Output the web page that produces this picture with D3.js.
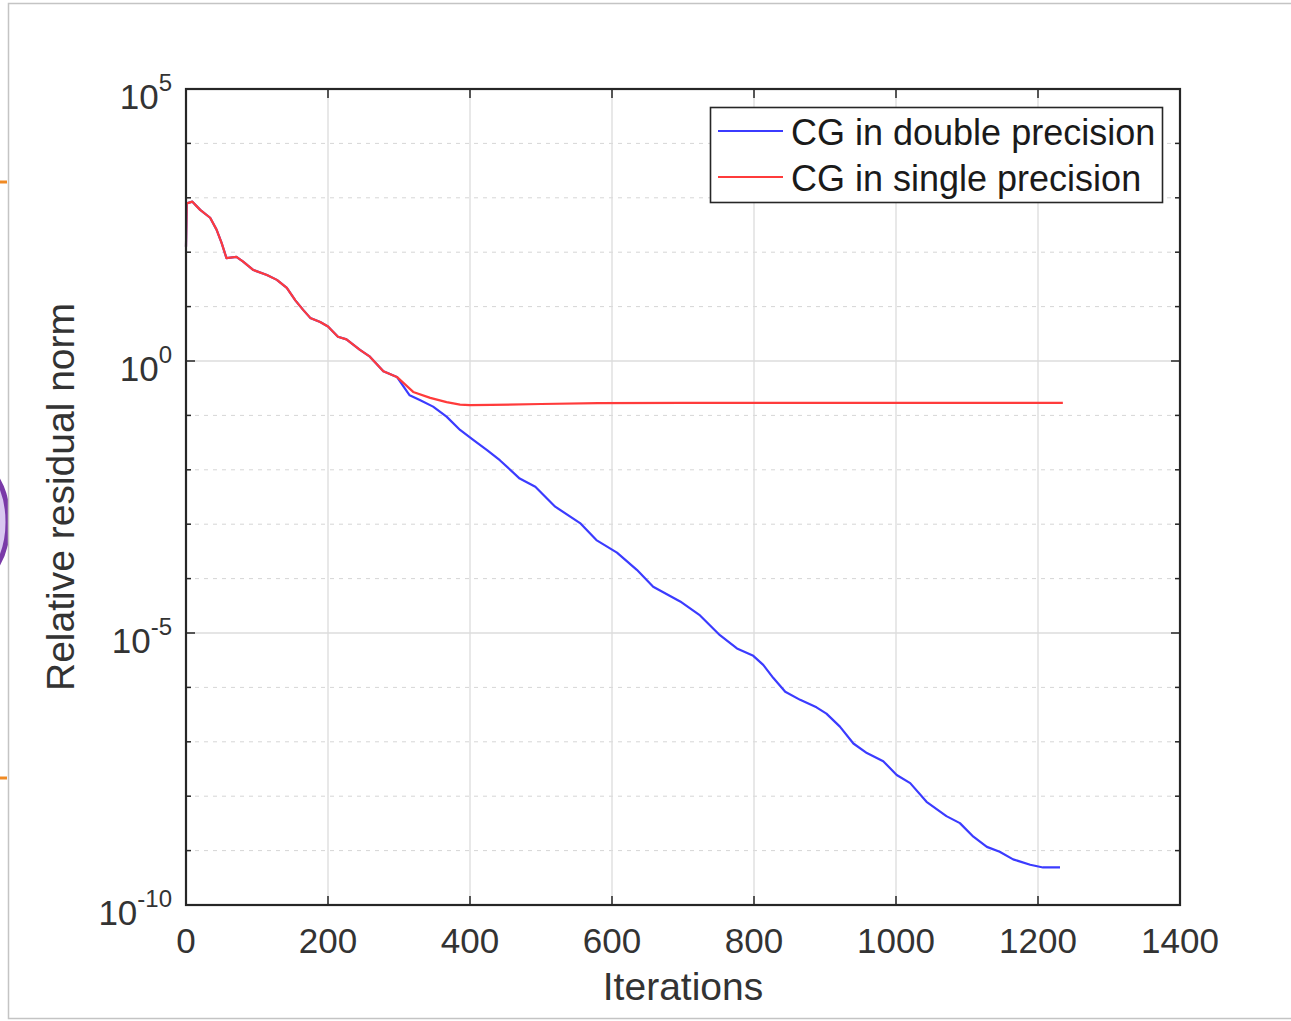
<!DOCTYPE html>
<html>
<head>
<meta charset="utf-8">
<script src="https://cdn.jsdelivr.net/npm/d3@7"></script>
<style>
    body { margin: 0; background: #ffffff; }
    svg { display: block; font-family: "Liberation Sans", Arial, Helvetica, sans-serif; }
</style>
</head>
<body>
<script>
const width = 1291, height = 1021;

// iterations + relative residual norm
const sharedIter = [0, 1, 9, 20, 34, 43, 50, 57, 71, 80, 95, 114, 128, 142, 154, 165, 175, 189, 200, 214, 226, 245, 259, 278, 297];
const sharedRes = [1.26e2, 7.9e2, 8.5e2, 6.0e2, 4.3e2, 2.6e2, 1.5e2, 7.8e1, 8.2e1, 6.8e1, 4.7e1, 3.8e1, 3.1e1, 2.2e1, 1.3e1, 8.7, 6.2, 5.2, 4.3, 2.8, 2.5, 1.6, 1.2, 0.65, 0.51];

const doubleIter = [315, 330, 348, 367, 386, 405, 424, 442, 470, 492, 520, 555, 578, 607, 635, 658, 696, 724, 752, 776, 799, 813, 827, 844, 865, 888, 902, 921, 940, 959, 982, 1001, 1020, 1043, 1071, 1090, 1109, 1128, 1146, 1165, 1189, 1207, 1231];
const doubleRes = [0.234, 0.19, 0.145, 0.095, 0.054, 0.035, 0.023, 0.015, 6.9e-3, 4.9e-3, 2.1e-3, 1.05e-3, 5.1e-4, 3.0e-4, 1.45e-4, 7.1e-5, 3.8e-5, 2.1e-5, 9.1e-6, 5.2e-6, 3.8e-6, 2.6e-6, 1.5e-6, 8.3e-7, 5.9e-7, 4.3e-7, 3.3e-7, 1.9e-7, 9.3e-8, 6.2e-8, 4.4e-8, 2.45e-8, 1.74e-8, 7.9e-9, 4.3e-9, 3.2e-9, 1.8e-9, 1.17e-9, 9.5e-10, 6.9e-10, 5.5e-10, 4.9e-10, 4.9e-10];

const singleIter = [320, 344, 367, 386, 400, 430, 500, 580, 700, 900, 1100, 1235];
const singleRes = [0.27, 0.21, 0.175, 0.158, 0.155, 0.156, 0.162, 0.168, 0.17, 0.17, 0.17, 0.17];

const xTicks = [0, 200, 400, 600, 800, 1000, 1200, 1400];
const yMajor = [5, 0, -5, -10];
const yMinor = [4, 3, 2, 1, -1, -2, -3, -4, -6, -7, -8, -9];
const legendLabels = ["CG in double precision", "CG in single precision"];
const seriesColors = ["#3b3bff", "#ff3b3b"];

const plot = {left: 186, right: 1180, top: 89, bottom: 905};

const x = d3.scaleLinear().domain([0, 1400]).range([plot.left, plot.right]);
const y = d3.scaleLog().domain([1e-10, 1e5]).range([plot.bottom, plot.top]);

const svg = d3.select("body").append("svg")
    .attr("width", width)
    .attr("height", height);

// bits of the slide behind the screenshot
svg.append("line").attr("x1", 0).attr("x2", 7).attr("y1", 182).attr("y2", 182)
    .attr("stroke", "#f08a24").attr("stroke-width", 3);
svg.append("line").attr("x1", 0).attr("x2", 7).attr("y1", 778).attr("y2", 778)
    .attr("stroke", "#f08a24").attr("stroke-width", 3);
svg.append("ellipse").attr("cx", -30).attr("cy", 522).attr("rx", 38).attr("ry", 62)
    .attr("fill", "#d9c8f0").attr("stroke", "#7a3aa8").attr("stroke-width", 5);

// screenshot frame
svg.append("rect")
    .attr("x", 8.5).attr("y", 3.5)
    .attr("width", width).attr("height", 1015)
    .attr("fill", "#ffffff")
    .attr("stroke", "#c4c4c4")
    .attr("stroke-width", 1.5);

// grid
const grid = svg.append("g").attr("class", "grid");
grid.selectAll("line.minor")
    .data(yMinor)
    .enter().append("line")
    .attr("class", "minor")
    .attr("x1", plot.left).attr("x2", plot.right)
    .attr("y1", d => y(Math.pow(10, d))).attr("y2", d => y(Math.pow(10, d)))
    .attr("stroke", "#d6d6d6")
    .attr("stroke-dasharray", "4,5")
    .attr("stroke-width", 1);
grid.selectAll("line.major")
    .data(yMajor.slice(1, 3))
    .enter().append("line")
    .attr("class", "major")
    .attr("x1", plot.left).attr("x2", plot.right)
    .attr("y1", d => y(Math.pow(10, d))).attr("y2", d => y(Math.pow(10, d)))
    .attr("stroke", "#dcdcdc")
    .attr("stroke-width", 1.3);
grid.selectAll("line.xg")
    .data(xTicks.slice(1, -1))
    .enter().append("line")
    .attr("class", "xg")
    .attr("x1", d => x(d)).attr("x2", d => x(d))
    .attr("y1", plot.top).attr("y2", plot.bottom)
    .attr("stroke", "#dcdcdc")
    .attr("stroke-width", 1.3);

// data lines
const line = d3.line()
    .x(d => x(d[0]))
    .y(d => y(d[1]));

const shared = d3.zip(sharedIter, sharedRes);
const doubleData = shared.concat(d3.zip(doubleIter, doubleRes));
const singleData = shared.concat(d3.zip(singleIter, singleRes));

svg.append("path")
    .datum(doubleData)
    .attr("d", line)
    .attr("fill", "none")
    .attr("stroke", seriesColors[0])
    .attr("stroke-width", 2.2)
    .attr("stroke-linejoin", "round");

svg.append("path")
    .datum(singleData)
    .attr("d", line)
    .attr("fill", "none")
    .attr("stroke", seriesColors[1])
    .attr("stroke-width", 2.2)
    .attr("stroke-linejoin", "round");

// axes box and ticks
const axisColor = "#262626";
const axes = svg.append("g");
const tickLen = 9, minorLen = 5;

xTicks.forEach(function (t) {
    axes.append("line").attr("x1", x(t)).attr("x2", x(t))
        .attr("y1", plot.bottom).attr("y2", plot.bottom - tickLen)
        .attr("stroke", axisColor).attr("stroke-width", 1.5);
    axes.append("line").attr("x1", x(t)).attr("x2", x(t))
        .attr("y1", plot.top).attr("y2", plot.top + tickLen)
        .attr("stroke", axisColor).attr("stroke-width", 1.5);
});
yMajor.concat(yMinor).forEach(function (e) {
    const len = yMajor.indexOf(e) >= 0 ? tickLen : minorLen;
    const yy = y(Math.pow(10, e));
    axes.append("line").attr("x1", plot.left).attr("x2", plot.left + len)
        .attr("y1", yy).attr("y2", yy)
        .attr("stroke", axisColor).attr("stroke-width", 1.5);
    axes.append("line").attr("x1", plot.right).attr("x2", plot.right - len)
        .attr("y1", yy).attr("y2", yy)
        .attr("stroke", axisColor).attr("stroke-width", 1.5);
});

axes.append("rect")
    .attr("x", plot.left).attr("y", plot.top)
    .attr("width", plot.right - plot.left)
    .attr("height", plot.bottom - plot.top)
    .attr("fill", "none")
    .attr("stroke", axisColor)
    .attr("stroke-width", 2.2);

// tick labels
const labelColor = "#333333";
svg.append("g").selectAll("text")
    .data(xTicks)
    .enter().append("text")
    .attr("x", d => x(d))
    .attr("y", plot.bottom + 48)
    .attr("text-anchor", "middle")
    .attr("font-size", 35)
    .attr("fill", labelColor)
    .text(d => d);

const yLabels = svg.append("g").selectAll("text")
    .data(yMajor)
    .enter().append("text")
    .attr("x", 172)
    .attr("y", d => y(Math.pow(10, d)) + 20)
    .attr("text-anchor", "end")
    .attr("fill", labelColor);
yLabels.append("tspan")
    .attr("font-size", 35)
    .text("10");
yLabels.append("tspan")
    .attr("font-size", 24)
    .attr("dy", -18)
    .text(d => d < 0 ? "-" + Math.abs(d) : d);

// axis titles
svg.append("text")
    .attr("x", (plot.left + plot.right) / 2)
    .attr("y", 1000)
    .attr("text-anchor", "middle")
    .attr("font-size", 39)
    .attr("fill", labelColor)
    .text("Iterations");

svg.append("text")
    .attr("transform", "translate(74," + ((plot.top + plot.bottom) / 2) + ") rotate(-90)")
    .attr("text-anchor", "middle")
    .attr("font-size", 39)
    .attr("fill", labelColor)
    .text("Relative residual norm");

// legend
const legend = svg.append("g");
legend.append("rect")
    .attr("x", 710.5).attr("y", 107.5)
    .attr("width", 452).attr("height", 95)
    .attr("fill", "#ffffff")
    .attr("stroke", axisColor)
    .attr("stroke-width", 1.6);

legendLabels.forEach(function (lab, i) {
    const ly = 131 + i * 46;
    legend.append("line")
        .attr("x1", 718).attr("x2", 783)
        .attr("y1", ly).attr("y2", ly)
        .attr("stroke", seriesColors[i])
        .attr("stroke-width", 2);
    legend.append("text")
        .attr("x", 791)
        .attr("y", ly + 14)
        .attr("font-size", 36)
        .attr("fill", "#1a1a1a")
        .text(lab);
});
</script>
</body>
</html>
